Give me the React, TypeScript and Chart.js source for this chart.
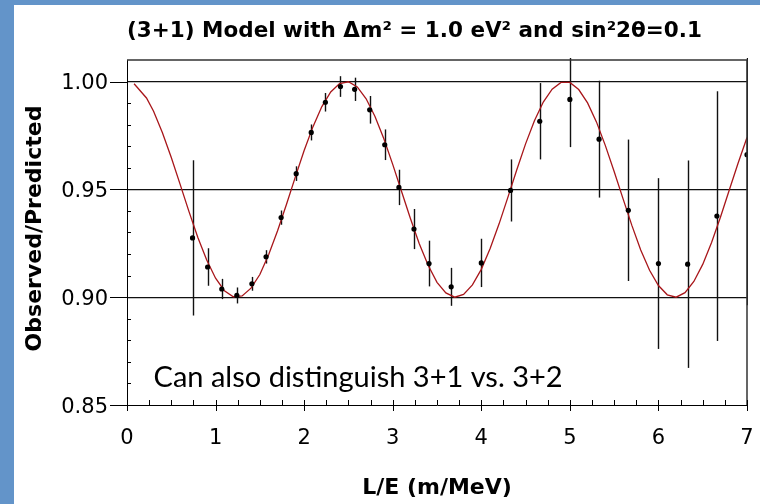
import React, { useEffect, useRef } from "react";
import { Chart, registerables } from "chart.js";

Chart.register(...registerables);

// Measured points: L/E (m/MeV), observed/predicted ratio, and its 1-sigma error
const lOverE = [
  0.74, 0.91, 1.07, 1.24, 1.41, 1.57, 1.74, 1.91, 2.08, 2.24, 2.41, 2.57, 2.74, 2.91,
  3.07, 3.24, 3.41, 3.66, 4.0, 4.33, 4.66, 5.0, 5.33, 5.66, 6.0, 6.33, 6.66, 7.0,
];
const ratio = [
  0.9275, 0.914, 0.9038, 0.9008, 0.9062, 0.9187, 0.9369, 0.9573, 0.9764, 0.9904, 0.9977,
  0.9964, 0.9869, 0.9707, 0.9509, 0.9316, 0.9156, 0.9048, 0.9159, 0.9495, 0.9816, 0.9917,
  0.9733, 0.9403, 0.9156, 0.9153, 0.9376, 0.9661,
];
const ratioErr = [
  0.036, 0.0087, 0.0047, 0.0037, 0.0032, 0.0031, 0.0033, 0.0034, 0.0037, 0.0043, 0.0048,
  0.0054, 0.0064, 0.0071, 0.0082, 0.0093, 0.0106, 0.0088, 0.0112, 0.0144, 0.0177, 0.0221,
  0.0271, 0.0328, 0.0396, 0.0481, 0.0579, 0.0698,
];

// (3+1) oscillation model curve
const modelX = [
  0.08, 0.22, 0.3, 0.4, 0.5, 0.6, 0.7, 0.8, 0.9, 1.0, 1.1, 1.2, 1.3, 1.4, 1.5, 1.6, 1.7, 1.8,
  1.9, 2.0, 2.1, 2.2, 2.3, 2.4, 2.5, 2.6, 2.7, 2.8, 2.9, 3.0, 3.1, 3.2, 3.3, 3.4, 3.5, 3.6,
  3.7, 3.8, 3.9, 4.0, 4.1, 4.2, 4.3, 4.4, 4.5, 4.6, 4.7, 4.8, 4.9, 5.0, 5.1, 5.2, 5.3, 5.4,
  5.5, 5.6, 5.7, 5.8, 5.9, 6.0, 6.1, 6.2, 6.3, 6.4, 6.5, 6.6, 6.7, 6.8, 6.9, 7.0, 7.03,
];
const modelY = [
  0.999, 0.9924, 0.9862, 0.9763, 0.9648, 0.9523, 0.9397, 0.9277, 0.9172, 0.9088, 0.903,
  0.9002, 0.9006, 0.9042, 0.9105, 0.9198, 0.9308, 0.943, 0.9557, 0.968, 0.9791, 0.9884,
  0.9952, 0.9991, 0.9999, 0.9975, 0.992, 0.9838, 0.9735, 0.9616, 0.949, 0.9365, 0.9248,
  0.9148, 0.9069, 0.902, 0.9, 0.9013, 0.9057, 0.9129, 0.9226, 0.9339, 0.9463, 0.959, 0.9711,
  0.9818, 0.9905, 0.9965, 0.9996, 0.9996, 0.9963, 0.9901, 0.9813, 0.9704, 0.9583, 0.9457,
  0.9333, 0.9219, 0.9125, 0.9054, 0.9011, 0.9, 0.9021, 0.9073, 0.9152, 0.9254, 0.9371,
  0.9497, 0.9622, 0.9741, 0.9768,
];

const xTicks = [0, 1, 2, 3, 4, 5, 6, 7];
const yTicks = [0.85, 0.9, 0.95, 1.0];
const yTickLabels = ["0.85", "0.90", "0.95", "1.00"];

const titleText = "(3+1) Model with \u0394m\u00b2 = 1.0 eV\u00b2 and sin\u00b22\u03b8=0.1";
const xTitle = "L/E (m/MeV)";
const yTitle = "Observed/Predicted";
const note = "Can also distinguish 3+1 vs. 3+2";

const FONT = "'DejaVu Sans', Verdana, sans-serif";

const decorPlugin = {
  id: "decor",
  beforeDatasetsDraw(chart: any) {
    const { ctx, chartArea: a, scales } = chart;
    const xs = scales.x;
    const ys = scales.y;
    ctx.save();
    ctx.beginPath();
    ctx.rect(a.left, a.top - 2, a.right - a.left + 1, a.bottom - a.top + 2);
    ctx.clip();
    ctx.strokeStyle = "#111";
    ctx.lineWidth = 1.4;
    for (let i = 0; i < lOverE.length; i++) {
      const px = Math.round(xs.getPixelForValue(lOverE[i])) + 0.5;
      const y1 = ys.getPixelForValue(ratio[i] + ratioErr[i]);
      const y2 = ys.getPixelForValue(ratio[i] - ratioErr[i]);
      ctx.beginPath();
      ctx.moveTo(px, y1);
      ctx.lineTo(px, y2);
      ctx.stroke();
    }
    ctx.restore();
  },
  afterDraw(chart: any) {
    const { ctx, chartArea: a, scales } = chart;
    const xs = scales.x;
    const ys = scales.y;
    ctx.save();

    // frame on top and right
    ctx.strokeStyle = "#333";
    ctx.lineWidth = 1.5;
    ctx.beginPath();
    ctx.moveTo(a.left, a.top);
    ctx.lineTo(a.right, a.top);
    ctx.lineTo(a.right, a.bottom);
    ctx.stroke();

    // y ticks
    ctx.strokeStyle = "#000";
    ctx.lineWidth = 1;
    for (const v of yTicks) {
      const y = Math.round(ys.getPixelForValue(v)) + 0.5;
      ctx.beginPath();
      ctx.moveTo(a.left - 17, y);
      ctx.lineTo(a.left, y);
      ctx.stroke();
    }
    for (let k = 86; k <= 99; k++) {
      if (k % 5 === 0) continue;
      const y = Math.round(ys.getPixelForValue(k / 100)) + 0.5;
      ctx.beginPath();
      ctx.moveTo(a.left, y);
      ctx.lineTo(a.left + 4, y);
      ctx.stroke();
    }
    // x ticks
    for (let q = 0; q <= 28; q++) {
      const v = q / 4;
      const x = Math.round(xs.getPixelForValue(v)) + 0.5;
      ctx.beginPath();
      if (q % 4 === 0) {
        ctx.moveTo(x, a.bottom - 5);
        ctx.lineTo(x, a.bottom + 6);
      } else {
        ctx.moveTo(x, a.bottom - 5);
        ctx.lineTo(x, a.bottom);
      }
      ctx.stroke();
    }

    // tick labels
    ctx.fillStyle = "#000";
    ctx.font = `21px ${FONT}`;
    ctx.textAlign = "right";
    ctx.textBaseline = "alphabetic";
    yTicks.forEach((v, i) => {
      ctx.fillText(yTickLabels[i], a.left - 19, ys.getPixelForValue(v) + 7.6);
    });
    ctx.textAlign = "center";
    xTicks.forEach((v) => {
      ctx.fillText(String(v), xs.getPixelForValue(v), a.bottom + 38.5);
    });

    // titles
    ctx.font = `bold 21.5px ${FONT}`;
    ctx.textAlign = "left";
    ctx.fillText(titleText, a.left, 31.5);

    ctx.textAlign = "center";
    ctx.font = `bold 22px ${FONT}`;
    ctx.fillText(xTitle, (a.left + a.right) / 2, a.bottom + 89);

    ctx.save();
    ctx.font = `bold 22px ${FONT}`;
    ctx.translate(27, (a.top + a.bottom) / 2 - 4);
    ctx.rotate(-Math.PI / 2);
    ctx.textAlign = "center";
    ctx.fillText(yTitle, 0, 0);
    ctx.restore();

    // annotation
    ctx.font = "29px Lato, 'Open Sans', sans-serif";
    ctx.textAlign = "left";
    ctx.fillText(note, xs.getPixelForValue(0.3), ys.getPixelForValue(0.8585));

    ctx.restore();
  },
};

export default function App() {
  const canvasRef = useRef<HTMLCanvasElement | null>(null);

  useEffect(() => {
    document.body.style.margin = "0";
    const canvas = canvasRef.current;
    if (!canvas) return;
    const chart = new Chart(canvas, {
      type: "scatter",
      data: {
        datasets: [
          {
            type: "scatter",
            label: "Data",
            data: lOverE.map((x, i) => ({ x, y: ratio[i] })),
            pointRadius: 2.6,
            pointBackgroundColor: "#000",
            pointBorderWidth: 0,
            order: 0,
          },
          {
            type: "line",
            label: "Model",
            data: modelX.map((x, i) => ({ x, y: modelY[i] })),
            borderColor: "#A8161A",
            borderWidth: 1.3,
            pointRadius: 0,
            tension: 0,
            fill: false,
            order: 1,
          },
        ],
      },
      options: {
        animation: false,
        responsive: false,
        events: [],
        layout: { padding: { left: 0, top: 55, right: 13, bottom: 0 } },
        plugins: {
          legend: { display: false },
          tooltip: { enabled: false },
          title: { display: false },
        },
        scales: {
          x: {
            type: "linear",
            min: 0,
            max: 7,
            ticks: { display: false, stepSize: 1 },
            grid: { display: false, drawTicks: false },
            border: { display: true, color: "#000", width: 1 },
            afterFit: (s: any) => {
              s.height = 99;
            },
          },
          y: {
            type: "linear",
            min: 0.85,
            max: 1.01,
            afterBuildTicks: (s: any) => {
              s.ticks = yTicks.map((value) => ({ value }));
            },
            ticks: { display: false },
            grid: {
              drawTicks: false,
              color: (c: any) => (c.tick && c.tick.value > 0.86 ? "#111" : "rgba(0,0,0,0)"),
              lineWidth: 1.2,
            },
            border: { display: true, color: "#000", width: 1 },
            afterFit: (s: any) => {
              s.width = 113;
            },
          },
        },
      },
      plugins: [decorPlugin],
    });
    return () => chart.destroy();
  }, []);

  return (
    <div style={{ position: "relative", width: 760, height: 504, background: "#6394C9" }}>
      <div style={{ position: "absolute", left: 14, top: 5, width: 746, height: 499, background: "#fff" }}>
        <canvas ref={canvasRef} width={746} height={499} style={{ display: "block" }} />
      </div>
    </div>
  );
}
